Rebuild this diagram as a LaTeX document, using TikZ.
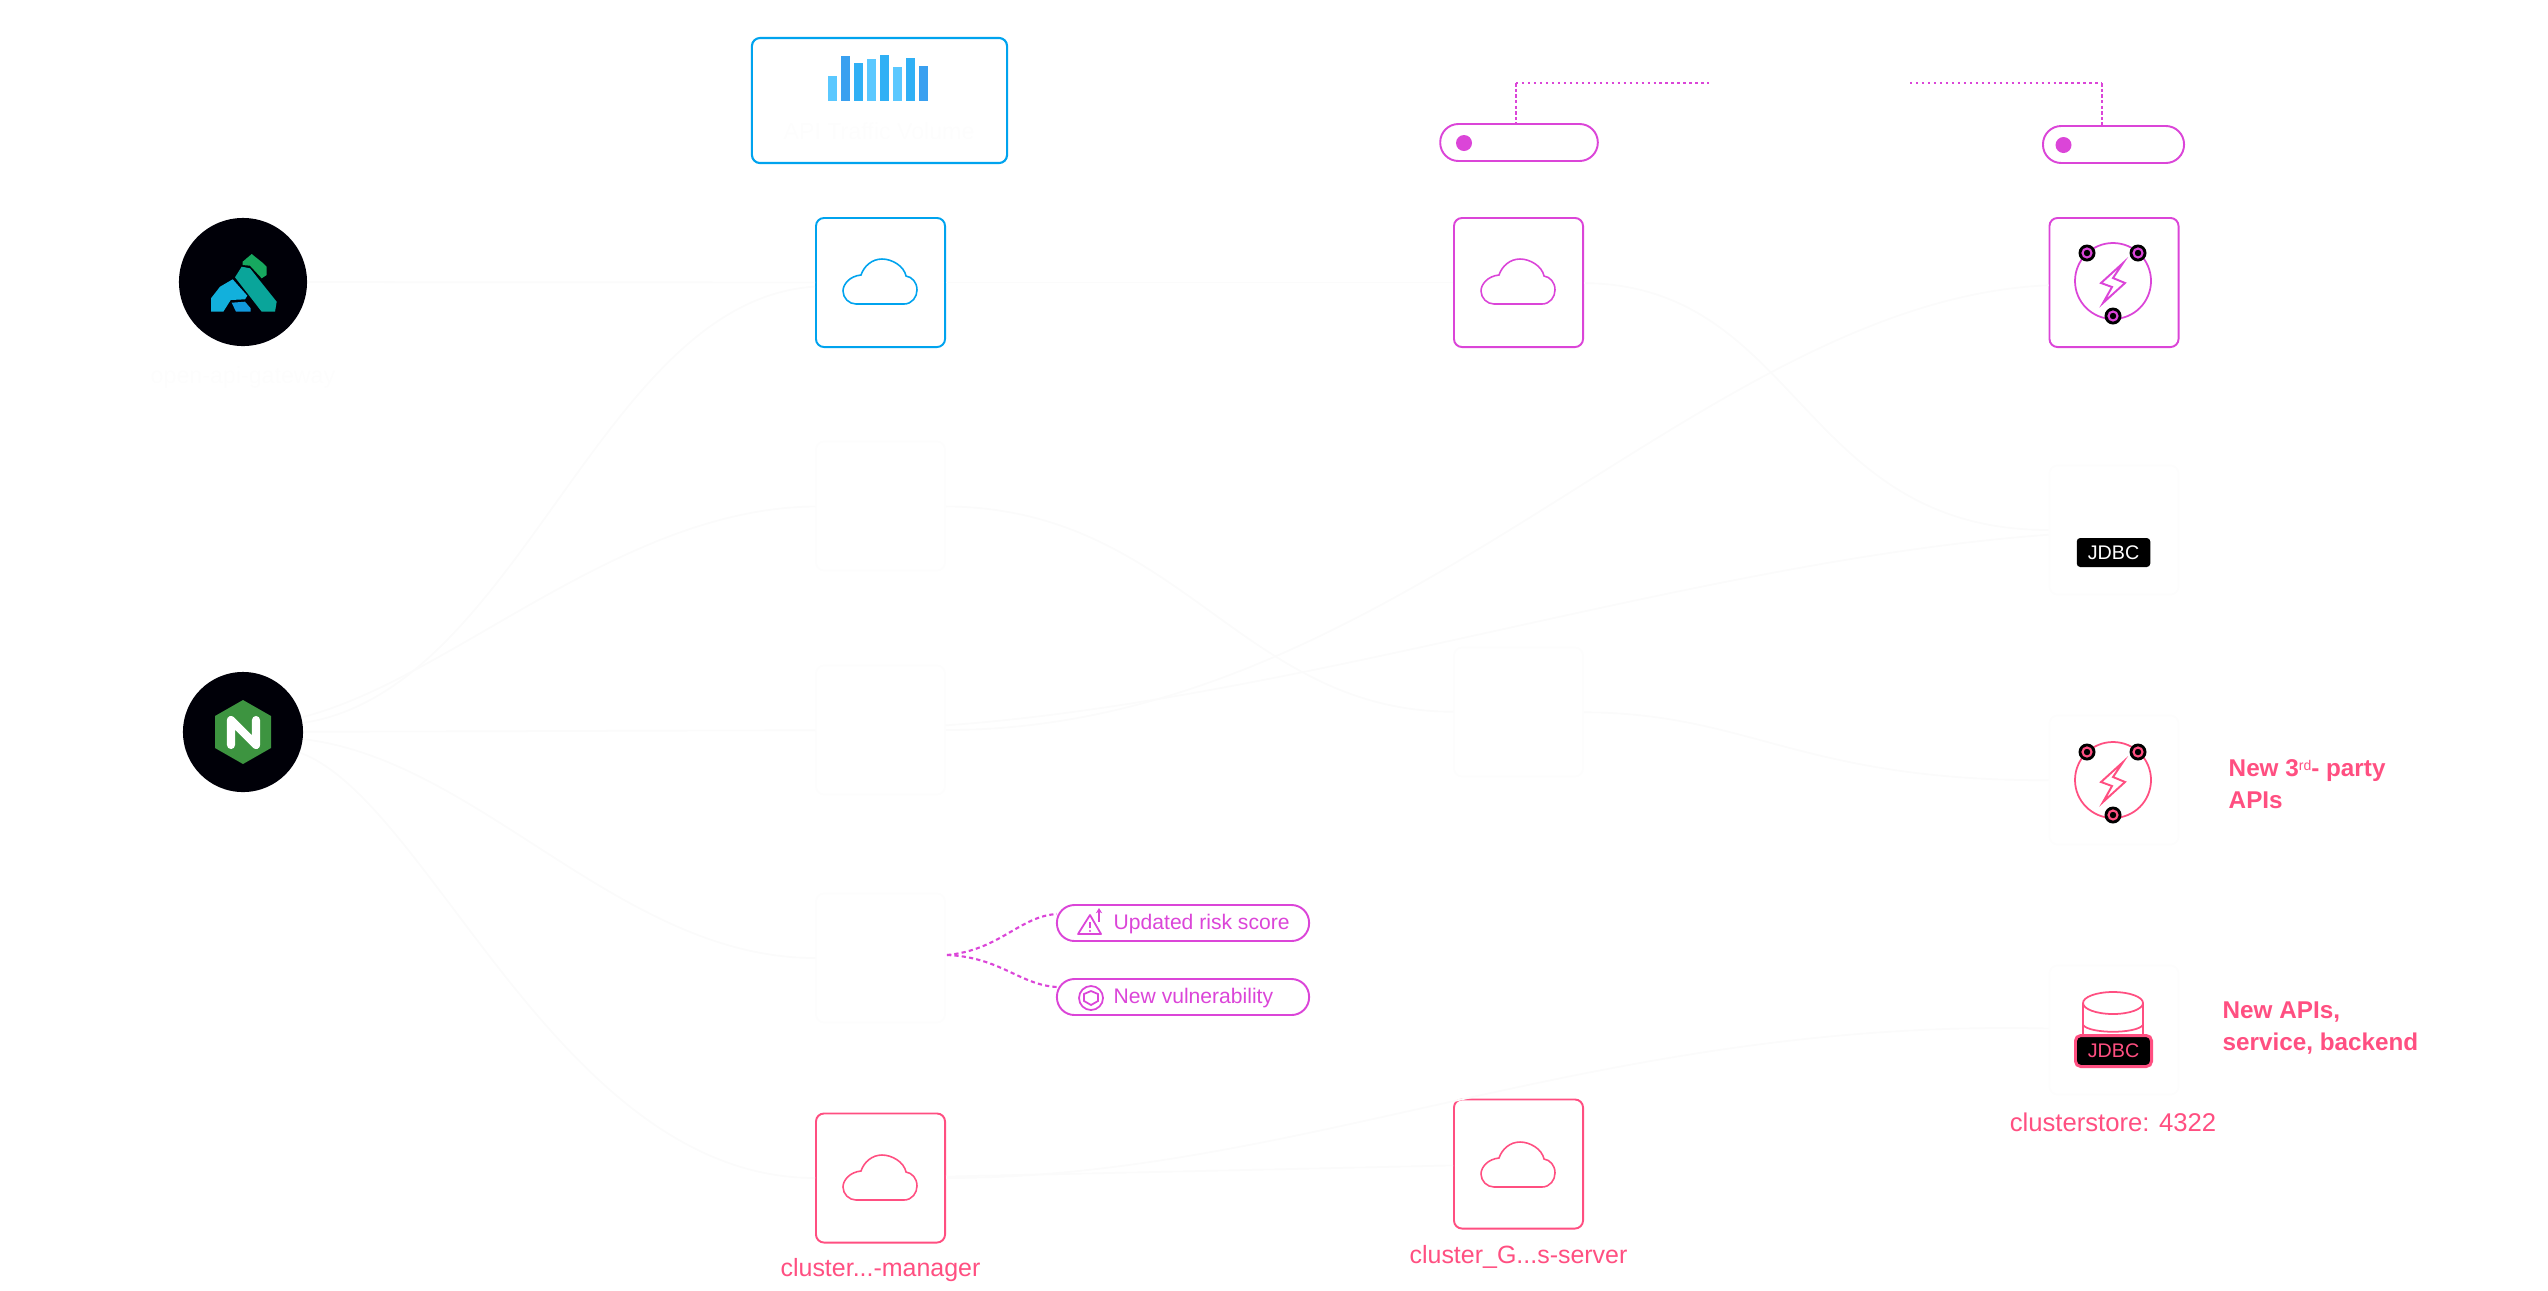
\documentclass[tikz,border=0pt]{standalone}
\usepackage{fontspec}
\usetikzlibrary{arrows.meta}
\setmainfont{Liberation Sans}
\definecolor{specblue}{HTML}{00A3EE}
\definecolor{magentaline}{HTML}{DB45D8}
\definecolor{pinkline}{HTML}{FF4F81}
\definecolor{ghost}{HTML}{FBFBFB}
\definecolor{ghostbox}{HTML}{FDFDFD}
\tikzset{
    card/.style={draw, line width=0.55pt, rounded corners=2.3pt, minimum size=1.29cm, inner sep=0pt},
    ghostcard/.style={card, draw=ghostbox},
    flow/.style={draw=ghost, line width=0.5pt},
    pill/.style={draw=magentaline, line width=0.55pt, rounded corners=5.2pt, inner sep=0pt},
    caption/.style={text=pinkline, font=\fontsize{7.1}{8}\selectfont},
    note/.style={text=pinkline, inner sep=0pt, font=\fontsize{6.9}{9.1}\bfseries\selectfont, align=left, anchor=west},
    ghosttext/.style={text=ghostbox, font=\fontsize{6.6}{8}\selectfont},
    cloudmark/.pic={
        \draw[line width=0.45pt, pic actions] (-24,22) -- (24,22)
            .. controls (32,22) and (37,15) .. (37,8)
            .. controls (37,0) and (32,-5) .. (26,-6)
            .. controls (24,-16) and (12,-23) .. (2,-23)
            .. controls (-8,-23) and (-16,-16) .. (-19,-7)
            .. controls (-30,-6) and (-37,2) .. (-37,9)
            .. controls (-37,16) and (-31,22) .. (-24,22) -- cycle;
    },
    boltring/.pic={
        \draw[line width=0.5pt, pic actions] (0,0) circle (38);
        \draw[line width=0.55pt, pic actions] (10,-18) -- (-12,2) -- (-1,6) -- (-10,22) -- (12,2) -- (0,-3) -- cycle;
        \foreach \dx/\dy in {-26/-28, 25/-28, 0/35} {
            \fill[black] (\dx,\dy) circle (8.5);
            \draw[line width=0.6pt, pic actions] (\dx,\dy) circle (4.5);
        }
    },
}
\begin{document}
\begin{tikzpicture}[x=0.01cm,y=-0.01cm]
    \useasboundingbox (0,0) rectangle (2548,1290);

    % ghost boxes and connectors
    \node[ghostcard] (ghostb) at (880.5,506) {};
    \node[ghostcard] (ghostc) at (880.5,730) {};
    \node[ghostcard] (ghostd) at (880.5,958) {};
    \node[ghostcard] (ghoste) at (1518.5,712) {};
    \node[ghostcard] (ghostf) at (2114,530) {};
    \node[ghostcard] (ghostg) at (2114,780) {};
    \node[ghostcard] (ghosth) at (2114,1030) {};

    % kong and nginx
    \node[circle, fill=black!97!blue, minimum size=1.28cm, inner sep=0pt] (kong) at (243,282) {};
    \node[circle, fill=black!97!blue, minimum size=1.2cm, inner sep=0pt] (nginx) at (243,732) {};
    \node[ghosttext] (konglabel) at (243,377) {open-api-gateway};

    \fill[color={rgb,255:red,23;green,168;blue,95}] (251.7,254) -- (242.7,261.7) -- (242.7,265) -- (250,265.7)
        -- (261.7,278.3) -- (266.7,275) -- (266.7,266.7) -- (263.3,263.3) -- cycle;
    \fill[color={rgb,255:red,10;green,165;blue,154}] (241.7,266.7) -- (235,277.3) -- (261.7,311.7) -- (275,311.7)
        -- (276.7,301.7) -- (250,268.3) -- cycle;
    \fill[color={rgb,255:red,18;green,176;blue,220}] (232.7,279.3) -- (220,286.7) -- (211,298.3) -- (211,311.7)
        -- (223.3,311.7) -- (230.7,300) -- (245,299.3) -- (247.3,295.7) -- cycle;
    \fill[color={rgb,255:red,17;green,153;blue,221}] (231.7,302.7) -- (245,301.7) -- (250.7,308.3) -- (250.7,311.7)
        -- (236,311.7) -- cycle;

    \fill[color={rgb,255:red,61;green,148;blue,64}] (243,700) -- (271,716) -- (271,748) -- (243,764)
        -- (215,748) -- (215,716) -- cycle;
    \draw[white, line width=2.3pt, line cap=round, line join=round]
        (231,745) -- (231,720) -- (256,745) -- (256,720);

    % top row
    \node[draw=specblue, line width=0.6pt, rounded corners=2.3pt, minimum width=2.55cm, minimum height=1.25cm,
        inner sep=0pt] (traffic) at (879.5,100.5) {};
    \foreach \i/\t/\c in {0/76/5AC8FF, 1/56/3AA0F0, 2/63/30B0F5, 3/59/5AC8FF, 4/55/30B0F5, 5/67/5AC8FF, 6/58/30B0F5, 7/66/3AA0F0} {
        \definecolor{barcolor}{HTML}{\c}
        \fill[barcolor] (828+13*\i,\t) rectangle (837+13*\i,101);
    }
    \node[ghosttext] (trafficlabel) at (879,131) {API Traffic Volume};

    \node[pill, minimum width=1.575cm, minimum height=0.37cm] (pilla) at (1519,142.5) {};
    \node[pill, minimum width=1.41cm, minimum height=0.37cm] (pillb) at (2113.5,144.5) {};
    \fill[magentaline] (1464,143) circle (8);
    \fill[magentaline] (2063.5,145) circle (8);

    \coordinate (linka) at (1709,83);
    \coordinate (linkb) at (1910,83);
    \draw[magentaline, line width=0.7pt, densely dotted] (1516,83) -- (linka);
    \draw[magentaline, line width=0.7pt, densely dotted] (linkb) -- (2102,83);
    \draw[magentaline, line width=0.35pt, dash pattern=on 1pt off 0.6pt] (1516,83) -- (1516,124);
    \draw[magentaline, line width=0.35pt, dash pattern=on 1pt off 0.6pt] (2102,83) -- (2102,126);

    % cards
    \node[card, draw=specblue] (spec) at (880.5,282.5) {};
    \node[card, draw=magentaline] (cart) at (1518.5,282.5) {};
    \node[card, draw=magentaline] (group) at (2114,282.5) {};
    \node[card, draw=pinkline] (manager) at (880.5,1178) {};
    \node[card, draw=pinkline] (server) at (1518.5,1164) {};

    \pic[draw=specblue] at (880,282) {cloudmark};
    \pic[draw=magentaline] at (1518,282) {cloudmark};
    \pic[draw=pinkline] at (880,1178) {cloudmark};
    \pic[draw=pinkline] at (1518,1165) {cloudmark};
    \pic[draw=magentaline] at (2113,281) {boltring};
    \pic[draw=pinkline] at (2113,780) {boltring};

    % faint flows
    \path[flow] (kong) -- (spec);
    \path[flow] (spec) -- (cart);
    \path[flow] (nginx) .. controls (520,690) and (600,300) .. (spec);
    \path[flow] (nginx) .. controls (450,680) and (620,508) .. (ghostb);
    \path[flow] (nginx) -- (ghostc);
    \path[flow] (nginx) .. controls (480,760) and (620,958) .. (ghostd);
    \path[flow] (nginx) .. controls (430,800) and (560,1178) .. (manager);
    \path[flow] (ghostb) .. controls (1180,508) and (1240,711) .. (ghoste);
    \path[flow] (ghostc) .. controls (1400,730) and (1700,300) .. (group);
    \path[flow] (ghostc) .. controls (1300,700) and (1700,560) .. (ghostf);
    \path[flow] (cart) .. controls (1800,285) and (1800,530) .. (ghostf);
    \path[flow] (ghoste) .. controls (1750,713) and (1800,781) .. (ghostg);
    \path[flow] (manager) -- (server);
    \path[flow] (manager) .. controls (1300,1178) and (1600,1018) .. (ghosth);

    % jdbc badges and store
    \node[fill=black, rounded corners=1pt, minimum width=0.735cm, minimum height=0.29cm, inner sep=0pt,
        text=white, font=\fontsize{5.6}{7}\selectfont] (jdbc) at (2113.5,552.5) {JDBC};

    \draw[pinkline, line width=0.5pt] (2083,1003) -- (2083,1036) (2143,1003) -- (2143,1036);
    \draw[pinkline, line width=0.5pt] (2113,1003) ellipse (30 and 11);
    \draw[pinkline, line width=0.5pt] (2083,1025) .. controls (2090,1034) and (2136,1034) .. (2143,1025);
    \node[fill=black, draw=pinkline, line width=0.85pt, rounded corners=1.5pt, minimum width=0.76cm, minimum height=0.31cm,
        inner sep=0pt, text=pinkline, font=\fontsize{5.6}{7}\selectfont] (store) at (2113.5,1051) {JDBC};
    \node[caption, font=\fontsize{7.3}{8}\selectfont] (storelabel) at (2113,1122) {clusterstore: 4322};

    \node[caption] (managerlabel) at (880.5,1270.5) {cluster...-manager};
    \node[caption] (serverlabel) at (1518.5,1257) {cluster\_G...s-server};

    \node[note] (partylabel) at (2228,784) {New 3\raisebox{1.7pt}{\fontsize{4}{4}\mdseries\selectfont rd}- party\\APIs};
    \node[note] (apilabel) at (2222,1028) {New APIs,\\service, backend};

    % risk pills
    \node[pill, rounded corners=5pt, minimum width=2.52cm, minimum height=0.36cm] (risk) at (1183,923) {};
    \node[pill, rounded corners=5pt, minimum width=2.52cm, minimum height=0.36cm] (vuln) at (1183,997) {};
    \node[anchor=west, inner sep=0pt, text=magentaline, font=\fontsize{6}{8}\selectfont] (risklabel) at (1113,924.5) {Updated risk score};
    \node[anchor=west, inner sep=0pt, text=magentaline, font=\fontsize{6}{8}\selectfont] (vulnlabel) at (1113,998.5) {New vulnerability};

    \draw[magentaline, line width=0.5pt, line join=round] (1078,934) -- (1101,934) -- (1090,915) -- cycle;
    \draw[magentaline, line width=0.5pt] (1090,922) -- (1090,928);
    \fill[magentaline] (1090,931) circle (1.2);
    \draw[magentaline, line width=0.5pt, -{Stealth[length=1.5pt,width=1.8pt]}] (1099,922) -- (1099,908);
    \draw[magentaline, line width=0.5pt] (1091,998) circle (12);
    \draw[magentaline, line width=0.5pt] (1091,991) -- (1098,994) -- (1098,1001) -- (1091,1005) -- (1084,1001) -- (1084,994) -- cycle;

    \coordinate (fork) at (947,955);
    \draw[magentaline, line width=0.6pt, dash pattern=on 1.2pt off 0.9pt] (fork) .. controls (1000,950) and (1020,916) .. (1057,914);
    \draw[magentaline, line width=0.6pt, dash pattern=on 1.2pt off 0.9pt] (fork) .. controls (1000,957) and (1020,985) .. (1057,987);
\end{tikzpicture}
\end{document}
